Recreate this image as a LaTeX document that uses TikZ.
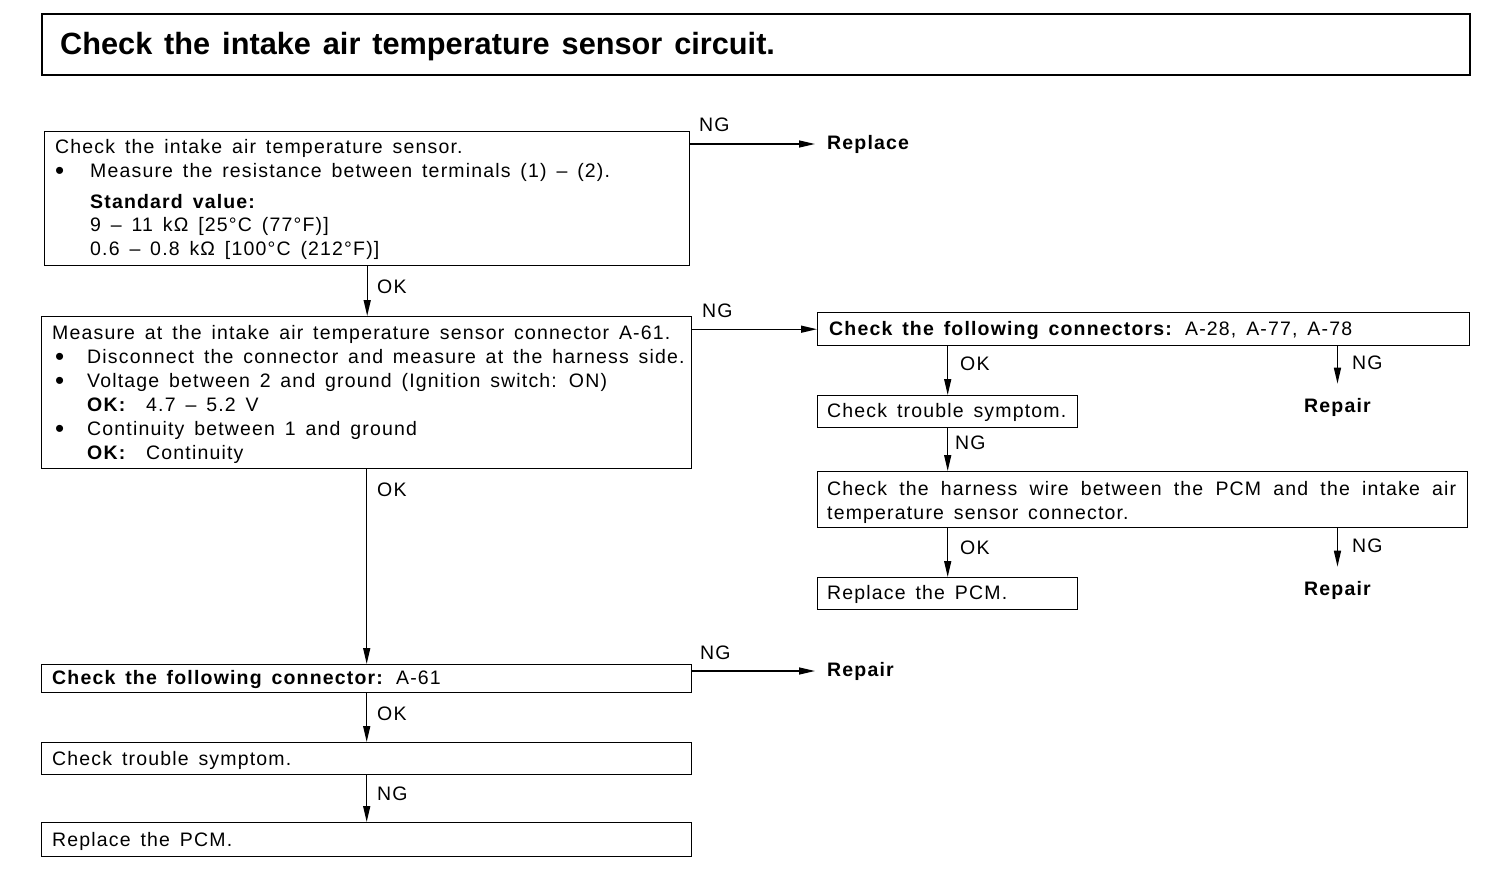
\documentclass[tikz,border=0pt]{standalone}
\usepackage{fontspec}
\setmainfont{Liberation Sans}[WordSpace=1.5,LetterSpace=6]
\newfontfamily\titlefont{Liberation Sans}[WordSpace=1.4]
\usetikzlibrary{arrows.meta}
\begin{document}
\begin{tikzpicture}[x=1pt,y=-1pt,
  font=\fontsize{19.5}{24}\selectfont,
  box/.style={draw, line width=1.4pt, inner sep=0pt, anchor=north west},
  txt/.style={anchor=base west, inner sep=0pt},
  bul/.style={anchor=base west, inner sep=0pt, font=\fontsize{26}{24}\selectfont},
  res/.style={anchor=west, inner sep=0pt, font=\fontsize{19.5}{24}\selectfont\bfseries},
  arr/.style={line width=1.4pt, -{Triangle[length=16pt,width=7pt]}}]
\useasboundingbox (0,0) rectangle (1504,896);
% title
\node[box, line width=2.2pt, minimum width=1428pt, minimum height=61pt] (title) at (41,13) {};
\node[txt, font=\titlefont\fontsize{30.7}{36}\selectfont\bfseries] (ttl) at (60,55) {Check the intake air temperature sensor circuit.};
% boxes
\node[box, minimum width=645pt, minimum height=134pt] (b1) at (44,131) {};
\node[box, minimum width=650pt, minimum height=152pt] (b2) at (41,316) {};
\node[box, minimum width=652pt, minimum height=33pt] (b3) at (817,312) {};
\node[box, minimum width=260pt, minimum height=32pt] (b4) at (817,395) {};
\node[box, minimum width=650pt, minimum height=56pt] (b5) at (817,471) {};
\node[box, minimum width=260pt, minimum height=32pt] (b6) at (817,577) {};
\node[box, minimum width=650pt, minimum height=28pt] (b7) at (41,664) {};
\node[box, minimum width=650pt, minimum height=32pt] (b8) at (41,742) {};
\node[box, minimum width=650pt, minimum height=34pt] (b9) at (41,822) {};
% box 1 text
\node[txt] (t1a) at (55,154) {Check the intake air temperature sensor.};
\node[bul] (t1b) at (55,180) {•};
\node[txt] (t1c) at (90,178) {Measure the resistance between terminals (1) – (2).};
\node[txt] (t1d) at (90,208) {\bfseries Standard value:};
\node[txt] (t1e) at (90,232) {9 – 11 kΩ [25°C (77°F)]};
\node[txt] (t1f) at (90,255) {0.6 – 0.8 kΩ [100°C (212°F)]};
% box 2 text
\node[txt] (t2a) at (52,339) {Measure at the intake air temperature sensor connector A-61.};
\node[bul] (t2b) at (55,365) {•};
\node[txt] (t2c) at (87,363) {Disconnect the connector and measure at the harness side.};
\node[bul] (t2d) at (55,389) {•};
\node[txt] (t2e) at (87,387) {Voltage between 2 and ground (Ignition switch: ON)};
\node[txt] (t2f) at (87,411) {\textbf{OK:}\ \ 4.7 – 5.2 V};
\node[bul] (t2g) at (55,437) {•};
\node[txt] (t2h) at (87,435) {Continuity between 1 and ground};
\node[txt] (t2i) at (87,459) {\textbf{OK:}\ \ Continuity};
% right column text
\node[txt] (t3) at (829,335) {\textbf{Check the following connectors:} A-28, A-77, A-78};
\node[txt] (t4) at (827,417) {Check trouble symptom.};
\node[txt] (t5a) at (827,495) {\makebox[629pt][s]{Check the harness wire between the PCM and the intake air}};
\node[txt] (t5b) at (827,519) {temperature sensor connector.};
\node[txt] (t6) at (827,599) {Replace the PCM.};
% bottom left text
\node[txt] (t7) at (52,684) {\textbf{Check the following connector:} A-61};
\node[txt] (t8) at (52,765) {Check trouble symptom.};
\node[txt] (t9) at (52,846) {Replace the PCM.};
% results
\node[res] (rep0) at (827,144) {Replace};
\node[res] (rep1) at (1304,407) {Repair};
\node[res] (rep2) at (1304,590) {Repair};
\node[res] (rep3) at (827,671) {Repair};
% connectors
\draw[arr] (b1.east |- rep0) -- ([xshift=-12pt]rep0.west);
\draw[arr] (b1.south) -- (b1.south |- b2.north);
\draw[arr] (b2.east |- b3.west) -- (b3.west);
\draw[arr] (b4.north |- b3.south) -- (b4.north);
\draw[arr] (rep1.north |- b3.south) -- ([yshift=14pt]rep1.north);
\draw[arr] (b4.south) -- (b4.south |- b5.north);
\draw[arr] (b6.north |- b5.south) -- (b6.north);
\draw[arr] (rep2.north |- b5.south) -- ([yshift=14pt]rep2.north);
\draw[arr] (b2.south) -- (b2.south |- b7.north);
\draw[arr] (b7.east |- rep3) -- ([xshift=-12pt]rep3.west);
\draw[arr] (b7.south) -- (b8.north);
\draw[arr] (b8.south) -- (b9.north);
% labels
\node[txt] (l1) at (699,132) {NG};
\node[txt] (l2) at (377,293) {OK};
\node[txt] (l3) at (702,317) {NG};
\node[txt] (l4) at (960,370) {OK};
\node[txt] (l5) at (1352,369) {NG};
\node[txt] (l6) at (955,449) {NG};
\node[txt] (l7) at (960,554) {OK};
\node[txt] (l8) at (1352,552) {NG};
\node[txt] (l9) at (377,496) {OK};
\node[txt] (l10) at (700,659) {NG};
\node[txt] (l11) at (377,720) {OK};
\node[txt] (l12) at (377,800) {NG};
\end{tikzpicture}
\end{document}
